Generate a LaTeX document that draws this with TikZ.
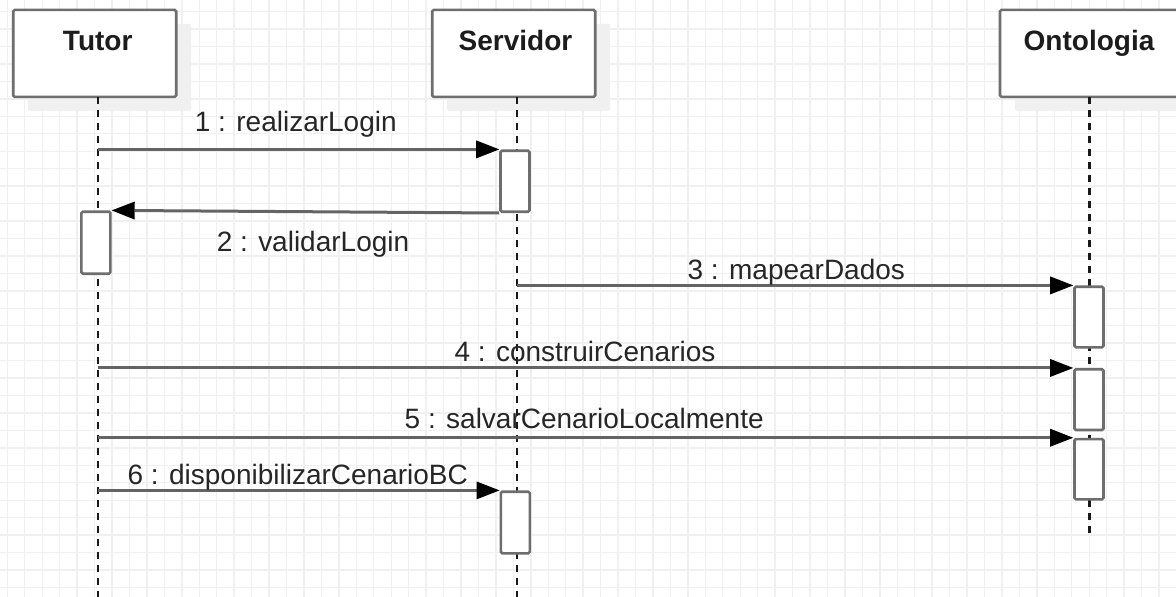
\documentclass[tikz,border=0pt]{standalone}
\usepackage{fontspec}
\setmainfont{Liberation Sans}
\usetikzlibrary{arrows.meta,shadows}

\definecolor{gridc}{RGB}{240,240,240}
\definecolor{shadowc}{RGB}{240,240,240}
\definecolor{framec}{RGB}{110,110,110}
\definecolor{msgc}{RGB}{100,100,100}
\definecolor{txtc}{RGB}{38,38,38}
\definecolor{titlec}{RGB}{28,28,28}
\definecolor{lifec}{RGB}{25,25,25}

\begin{document}
\begin{tikzpicture}[x=1pt,y=-1pt,
  gridline/.style={draw=gridc, line width=1.4pt},
  header/.style={draw=framec, line width=2.6pt, fill=white, rounded corners=1.5pt,
    inner sep=0pt, minimum width=163pt, minimum height=87pt,
    drop shadow={shadow xshift=15pt, shadow yshift=-14pt, fill=shadowc, opacity=1}},
  title/.style={font=\fontsize{28}{32}\selectfont\bfseries, text=titlec,
    anchor=base, inner sep=0pt},
  lifeline/.style={draw=lifec, line width=2.4pt, dash pattern=on 7pt off 6pt},
  act/.style={draw=framec, line width=2.6pt, fill=white, rounded corners=1.5pt,
    minimum width=29pt, inner sep=0pt},
  msg/.style={draw=msgc, line width=3pt,
    -{Triangle[length=23pt,width=18pt,color=black,line width=0pt]}},
  msglabel/.style={font=\fontsize{28}{32}\selectfont, text=txtc,
    anchor=base, inner sep=0pt}]

\useasboundingbox (0,0) rectangle (1176,597);
\begin{scope}
\clip (0,0) rectangle (1176,597);
\fill[white] (0,0) rectangle (1176,597);

% background grid
\foreach \i in {0,...,67} { \draw[gridline] ({7.3+17.45*\i},0) -- ++(0,597); }
\foreach \j in {0,...,34} { \draw[gridline] (0,{11.6+17.45*\j}) -- ++(1176,0); }

% object headers
\node[header] (tutor) at (94.7,53.4) {};
\node[header] (servidor) at (513.7,53.4) {};
\node[header, minimum width=180pt] (ontologia) at (1090,53.4) {};
\node[title] (tutorT) at (97.7,50) {Tutor};
\node[title] (servidorT) at (515.5,50) {Servidor};
\node[title] (ontologiaT) at (1089,50) {Ontologia};

% lifelines
\coordinate (tutorTop) at (97.7,97);
\coordinate (tutorBot) at (97.7,597);
\coordinate (servTop) at (516.7,97);
\coordinate (servBot) at (516.7,597);
\coordinate (ontTop) at (1089.3,97);
\coordinate (ontBot) at (1089.3,536);
\draw[lifeline] (tutorTop) -- (tutorBot);
\draw[lifeline] (servTop) -- (servBot);
\draw[lifeline] (ontTop) -- (ontBot);

% activation bars
\node[act, minimum height=61pt] (s1) at (515,181.2) {};
\node[act, minimum height=62pt] (t1) at (95.9,242.7) {};
\node[act, minimum height=60.6pt] (o1) at (1089,317) {};
\node[act, minimum height=60.7pt] (o2) at (1089,399.6) {};
\node[act, minimum height=60.3pt] (o3) at (1089,469.2) {};
\node[act, minimum height=61.6pt] (s2) at (515.3,522.5) {};

% messages
\draw[msg] (tutorTop |- s1.north west) -- (s1.north west);
\draw[msg] (s1.south west) -- (t1.north east);
\draw[msg] (servTop |- o1.north west) -- (o1.north west);
\draw[msg] (tutorTop |- o2.north west) -- (o2.north west);
\draw[msg] (tutorTop |- o3.north west) -- (o3.north west);
\draw[msg] (tutorTop |- s2.north west) -- (s2.north west);

% message labels
\node[msglabel] (l1) at (295.8,131.7) {1 : realizarLogin};
\node[msglabel] (l2) at (313,251) {2 : validarLogin};
\node[msglabel] (l3) at (796.3,279) {3 : mapearDados};
\node[msglabel] (l4) at (585,361.7) {4 : construirCenarios};
\node[msglabel] (l5) at (584.2,428.3) {5 : salvarCenarioLocalmente};
\node[msglabel] (l6) at (297.8,484.3) {6 : disponibilizarCenarioBC};
\end{scope}
\end{tikzpicture}
\end{document}
